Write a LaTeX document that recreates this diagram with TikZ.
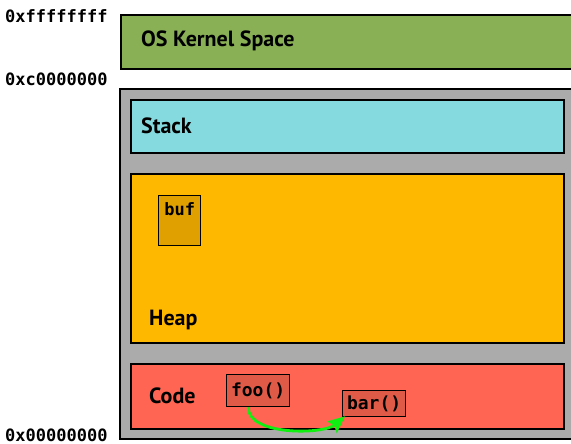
\documentclass[tikz,border=0pt]{standalone}
\usepackage{fontspec}
\setsansfont{PT Sans}
\setmonofont{DejaVu Sans Mono}
\usetikzlibrary{positioning, arrows.meta}

\definecolor{kernelgreen}{HTML}{8AB056}
\definecolor{procgray}{HTML}{ABABAB}
\definecolor{stackcyan}{HTML}{84DADE}
\definecolor{heaporange}{HTML}{FFB800}
\definecolor{bufbrown}{HTML}{E0A000}
\definecolor{codered}{HTML}{FF6552}
\definecolor{fnred}{HTML}{E05A48}
\definecolor{jumpgreen}{HTML}{11EE11}

\tikzset{
    region/.style = {draw=black, line width=1.6pt, anchor=north west, inner sep=0pt},
    seglbl/.style = {font=\sffamily\bfseries\fontsize{22}{22}\selectfont, anchor=west, inner sep=0pt},
    addr/.style = {font=\ttfamily\bfseries\fontsize{17}{17}\selectfont, anchor=base west, inner sep=0pt},
    fnbox/.style = {draw=black, line width=1.3pt, fill=fnred, inner sep=0pt,
        font=\ttfamily\bfseries\fontsize{18}{18}\selectfont},
}

\begin{document}
\begin{tikzpicture}[x=1pt, y=-1pt]
\useasboundingbox (0,0) rectangle (571,444);
\clip (0,0) rectangle (571,444);

% kernel part
\node[region, fill=kernelgreen, minimum width=470, minimum height=54] (kernel) at (120,14) {};
\node[seglbl] (kernellbl) at (141,41) {OS Kernel Space};

% user process
\node[region, fill=procgray, minimum width=470, minimum height=350] (proc) at (119,88) {};

\node[region, fill=stackcyan, minimum width=433, minimum height=53] (stack) at (130,99) {};
\node[seglbl] (stacklbl) at ([xshift=11]stack.west) {Stack};

\node[region, fill=heaporange, minimum width=433, minimum height=169] (heap) at (130,173) {};
\node[seglbl] (heaplbl) at (149,320) {Heap};

\node[region, fill=codered, minimum width=433, minimum height=65] (code) at (130,363) {};
\node[seglbl] (codelbl) at (149,396) {Code};

% buffer on the heap
\node[fnbox, fill=bufbrown, minimum width=42, minimum height=50, anchor=north west] (buf) at (158,195) {};
\node[font=\ttfamily\bfseries\fontsize{17}{17}\selectfont, anchor=north, inner sep=0pt] (buflbl) at ([yshift=-7]buf.north) {buf};

% functions
\node[fnbox, minimum width=63, minimum height=32, anchor=north west] (foo) at (226,374) {foo()};
\node[fnbox, minimum width=63, minimum height=26, anchor=north west] (bar) at (342,390) {bar()};
\coordinate (fooout) at ([xshift=-10]foo.south);
\coordinate (barin) at ([xshift=3,yshift=1]bar.south west);
\draw[jumpgreen, line width=2.8pt, -{Stealth[length=17pt,width=15pt,inset=3pt]}]
    (fooout) to[out=-90, in=220, looseness=0.75] (barin);

% addresses
\node[addr] (top) at (5,23) {0xffffffff};
\node[addr] (kbase) at (5,85) {0xc0000000};
\node[addr] (zero) at (5,441) {0x00000000};
\end{tikzpicture}
\end{document}
